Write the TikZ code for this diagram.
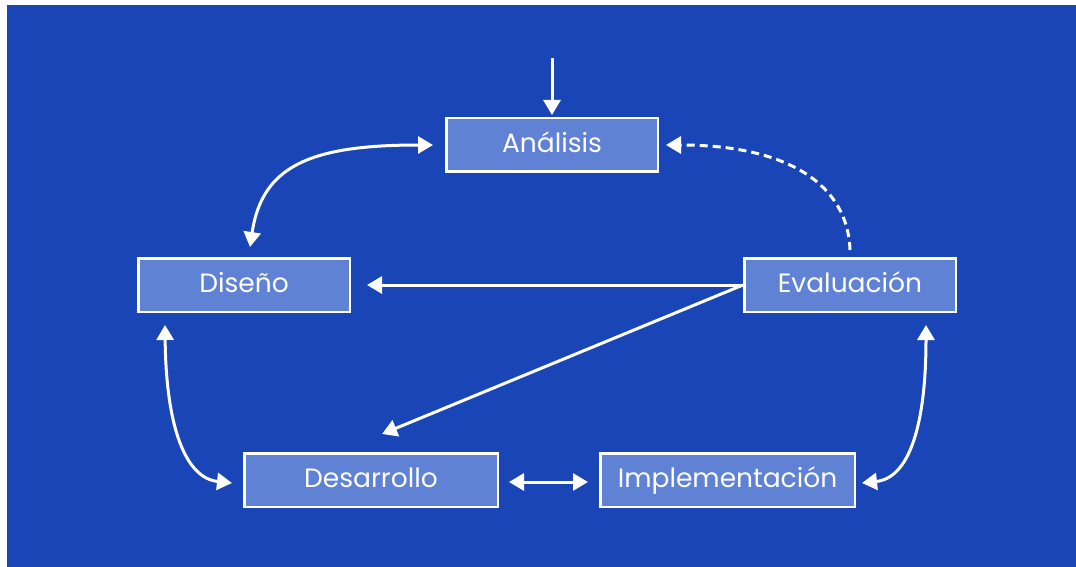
\documentclass[tikz,border=0pt]{standalone}
\usepackage{fontspec}
\setmainfont{Poppins}
\usetikzlibrary{arrows.meta}
\definecolor{bg}{RGB}{25,69,182}
\definecolor{boxfill}{RGB}{96,130,212}
\begin{document}
\begin{tikzpicture}[x=1pt,y=1pt,
  box/.style={draw=white, line width=2.5pt, fill=boxfill, minimum width=211.5pt, minimum height=53.5pt, inner sep=0pt, text height=19pt, text depth=3.6pt, text=white, font=\fontsize{26.5}{30}\selectfont},
  arr/.style={draw=white, line width=3pt, -{Triangle[length=15pt,width=17pt]}},
  dbl/.style={draw=white, line width=3pt, {Triangle[length=15pt,width=17pt]}-{Triangle[length=15pt,width=17pt]}},
  dsh/.style={draw=white, line width=3pt, dash pattern=on 8pt off 5pt, -{Triangle[length=15pt,width=17pt]}}
  ]
\useasboundingbox (0,0) rectangle (1076,566);
\fill[white] (0,0) rectangle (1076,566);
\fill[bg] (7,-6) rectangle (1082,561);

\node[box] (ana) at (552,421) {Análisis};
\node[box] (dis) at (244,281) {Diseño};
\node[box] (eva) at (850,281) {Evaluación};
\node[box, minimum width=253.5pt] (dev) at (371,86) {Desarrollo};
\node[box, minimum width=254.5pt] (imp) at (727.5,86) {Implementación};

\coordinate (start) at (552,508);
\draw[arr] (start) -- ([yshift=2pt]ana.north);

\draw[dbl] ([xshift=6pt,yshift=10pt]dis.north) .. controls (262,400) and (310,421) .. ([xshift=-12pt]ana.west);

\draw[dsh] ([yshift=7pt]eva.north) .. controls (848,380) and (790,421) .. ([xshift=7pt]ana.east);

\draw[arr] (eva.west) -- ([xshift=16pt]dis.east);
\draw[arr] (eva.west) -- ([xshift=11pt,yshift=18pt]dev.north);

\draw[dbl] ([xshift=-79pt,yshift=-12pt]dis.south) .. controls (166,140) and (185,88) .. ([xshift=-11pt,yshift=-3pt]dev.west);

\draw[dbl] ([xshift=76pt,yshift=-12pt]eva.south) .. controls (926,140) and (909,88) .. ([xshift=6pt,yshift=-3pt]imp.east);

\draw[dbl] ([xshift=10pt,yshift=-2pt]dev.east) -- ([xshift=-11pt,yshift=-2pt]imp.west);
\end{tikzpicture}
\end{document}
